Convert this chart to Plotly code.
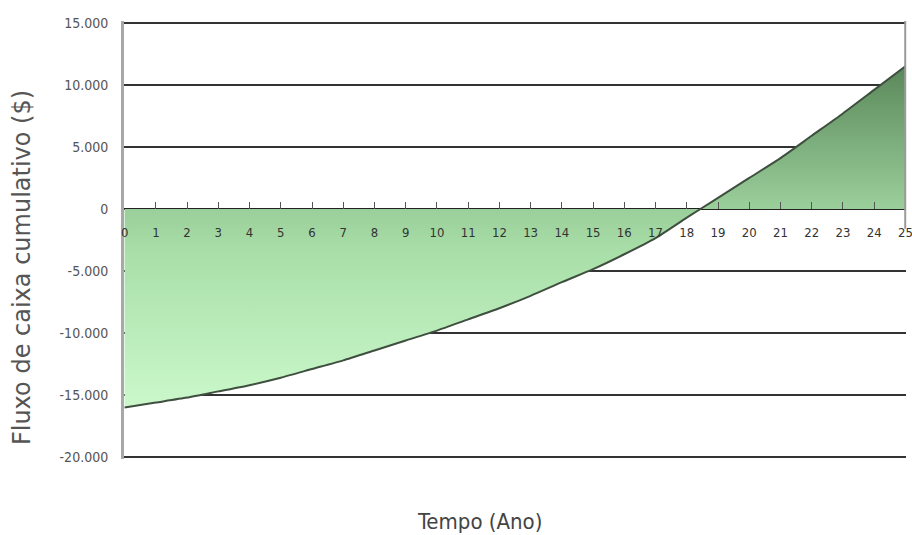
import plotly.graph_objects as go

years = list(range(0, 26))
cumulative = [-16000, -15600, -15200, -14700, -14200, -13600, -12900, -12200,
              -11400, -10600, -9800, -8900, -8000, -7000, -5900, -4850,
              -3650, -2350, -700, 900, 2500, 4100, 5900, 7700, 9600, 11500]
y_ticks = [15000, 10000, 5000, 0, -5000, -10000, -15000, -20000]
y_labels = ["15.000", "10.000", "5.000", "0", "-5.000", "-10.000", "-15.000", "-20.000"]

COND = "DejaVu Sans Condensed, Liberation Sans, sans-serif"
SANS = "Liberation Sans, Arial, sans-serif"
PAD = 150

fig = go.Figure()
fig.add_trace(go.Scatter(
    x=years, y=cumulative, mode="lines",
    line=dict(color="#3f4f3f", width=2, shape="spline", smoothing=0.6),
    fill="tozeroy",
    fillgradient=dict(type="vertical",
                      colorscale=[[0, "#cbf8cb"], [0.45, "#a9dfa9"], [0.6, "#98cc98"], [1, "#5a875a"]]),
    hoverinfo="skip", showlegend=False,
))

zero_pos = (20000 + PAD) / (35000 + 2 * PAD)
fig.add_shape(type="line", xref="paper", yref="paper", x0=0.999, x1=0.999,
              y0=zero_pos - 0.045, y1=1, line=dict(color="#9a9a9a", width=2), layer="above")

fig.update_layout(
    width=912, height=535,
    margin=dict(l=124, r=6, t=21, b=76, autoexpand=False),
    paper_bgcolor="white", plot_bgcolor="white",
    font=dict(family=SANS),
    xaxis=dict(
        range=[-0.02, 25.02], tickmode="array", tickvals=years, ticktext=[str(v) for v in years],
        anchor="free", position=zero_pos, showgrid=False, zeroline=False,
        ticks="inside", ticklen=7, tickcolor="#555", tickwidth=1,
        ticklabelstandoff=14, ticklabeloverflow="allow",
        tickfont=dict(size=13, color="#333", family=COND), showline=False, automargin=False,
    ),
    yaxis=dict(
        range=[-20000 - PAD, 15000 + PAD], tickmode="array", tickvals=y_ticks, ticktext=y_labels,
        showgrid=True, gridcolor="#333333", gridwidth=2,
        zeroline=True, zerolinecolor="#222222", zerolinewidth=2,
        showline=True, linecolor="#a8a8a8", linewidth=3,
        tickfont=dict(size=14, color="#555", family=COND), ticks="", ticklabelstandoff=10,
        automargin=False,
    ),
)
fig.add_annotation(text="Fluxo de caixa cumulativo ($)", xref="paper", yref="paper",
                   x=-0.1304, y=0.436, xanchor="center", yanchor="middle", textangle=-90,
                   showarrow=False, font=dict(size=24, color="#555", family="DejaVu Sans, sans-serif"))
fig.add_annotation(text="Tempo (Ano)", xref="paper", yref="paper", x=0.455, y=-0.1416,
                   xanchor="center", yanchor="middle", showarrow=False,
                   font=dict(size=22, color="#444", family=COND))

fig.write_html("out.html", config={"displayModeBar": False},
               post_script="document.body.style.margin='0';document.body.style.overflow='hidden';")
